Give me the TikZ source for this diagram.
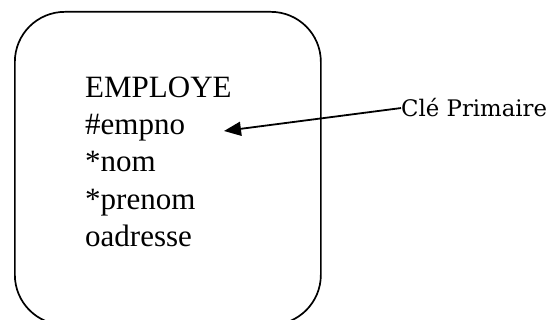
\documentclass[tikz,border=0pt]{standalone}
\usepackage{fontspec}
\setmainfont{Liberation Serif}
\newfontfamily\keyfont{DejaVu Serif}
\usetikzlibrary{arrows.meta}
\begin{document}
\begin{tikzpicture}[x=1pt,y=-1pt,
  entitybox/.style={draw, line width=1.7pt, rounded corners=50pt, inner sep=0pt},
  attr/.style={anchor=base west, inner sep=0pt, font=\fontsize{31}{37}\selectfont},
  keylabel/.style={anchor=base west, inner sep=0pt, font=\keyfont\fontsize{22.8}{27}\selectfont},
  pointer/.style={line width=1.8pt, -{Triangle[length=17pt,width=14pt]}}]
\useasboundingbox (0,0) rectangle (553,320);
% entity box (its lower edge runs just past the frame)
\node[entitybox, minimum width=306pt, minimum height=313pt, anchor=north west] (entity) at (14,11) {};
% entity name and attributes
\node[attr] (title)   at (85,98)  {EMPLOYE};
\node[attr] (empno)   at (85,135) {\#empno};
\node[attr] (nom)     at (85,172) {*nom};
\node[attr] (prenom)  at (85,209) {*prenom};
\node[attr] (adresse) at (85,246) {oadresse};
% primary key annotation
\node[keylabel] (pk) at (401,117) {Clé Primaire};
\coordinate (pktip) at (224,131);
\draw[pointer] (pk.west) -- (pktip);
\end{tikzpicture}
\end{document}
